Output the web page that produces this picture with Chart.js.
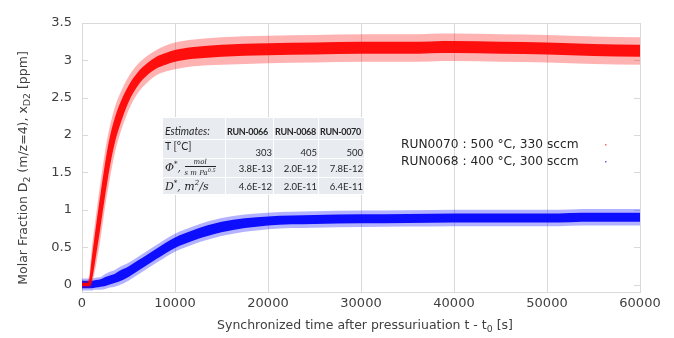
<!DOCTYPE html>
<html>
<head>
<meta charset="utf-8">
<script src="https://cdn.jsdelivr.net/npm/chart.js@4.4.1/dist/chart.umd.min.js"></script>
<style>
    html, body { margin: 0; padding: 0; background: #fff; }
    #wrap { position: relative; width: 674px; height: 338px; }
    #chart { position: absolute; left: 0; top: 0; }
    #estimates {
        position: absolute; left: 162px; top: 117px; width: 202px;
        border-collapse: collapse; table-layout: fixed;
        font-family: Lato, "Open Sans", sans-serif; font-size: 9.5px; color: #262626;
    }
    #estimates td { background: #e8ecf1; border: 1px solid #fff; padding: 0 1px; white-space: nowrap; }
    #estimates td.num { text-align: right; }
    #estimates tr.head td { height: 19px; vertical-align: bottom; padding-bottom: 2px; font-weight: bold;
        font-size: 9px; letter-spacing: -0.35px; padding-left: 1px; }
    #estimates tr.head td.first { font-weight: normal; font-style: italic; font-size: 10.5px; padding-left: 2px; letter-spacing: 0; }
    #estimates tr.temp td { height: 18px; vertical-align: bottom; }
    #estimates tr.temp td.first { vertical-align: top; font-size: 10.5px; padding-left: 2px; }
    #estimates tr.phi td { height: 18px; vertical-align: middle; }
    #estimates tr.diff td { height: 16px; vertical-align: middle; }
    #estimates tr.phi td.first, #estimates tr.diff td.first { padding-left: 2px; }
    .math { font-family: "DejaVu Serif", "Liberation Serif", serif; font-style: italic; font-size: 11px; }
    .frac { display: inline-block; vertical-align: middle; text-align: center; font-size: 7px; line-height: 7px; }
    .frac .top { display: block; border-bottom: 1px solid #262626; padding: 0 1px; }
    .frac .bot { display: block; }
</style>
</head>
<body>
<div id="wrap">
    <canvas id="chart" width="674" height="338"></canvas>
    <table id="estimates"></table>
</div>
<script>
// sample times [s] read along the two scatter bands
const timeS = [0, 500, 800, 1000, 1500, 2000, 2500, 3000, 3500, 4000, 5000, 6000, 7000, 8000, 9000,
    10000, 12000, 15000, 20000, 25000, 30000, 35000, 40000, 45000, 50000, 55000, 60000];

// RUN0070 (red) - dense core and sparse outer edge of the scatter band
const redCoreLow  = [-0.02, -0.02, -0.02, 0.02, 0.38, 0.78, 1.20, 1.58, 1.88, 2.10, 2.44, 2.66, 2.80, 2.89, 2.94,
    2.98, 3.02, 3.05, 3.07, 3.08, 3.09, 3.09, 3.10, 3.09, 3.08, 3.06, 3.05];
const redCoreHigh = [0.02, 0.02, 0.08, 0.30, 0.78, 1.22, 1.64, 1.98, 2.22, 2.40, 2.66, 2.84, 2.96, 3.05, 3.10,
    3.14, 3.18, 3.21, 3.23, 3.24, 3.25, 3.25, 3.26, 3.25, 3.24, 3.22, 3.21];
const redEdgeLow  = [-0.04, -0.04, -0.04, -0.02, 0.25, 0.62, 1.05, 1.42, 1.74, 1.98, 2.33, 2.56, 2.70, 2.80, 2.85,
    2.88, 2.92, 2.94, 2.96, 2.97, 2.98, 2.98, 2.99, 2.98, 2.97, 2.95, 2.94];
const redEdgeHigh = [0.04, 0.04, 0.15, 0.42, 0.92, 1.38, 1.80, 2.12, 2.36, 2.53, 2.78, 2.95, 3.06, 3.14, 3.20,
    3.24, 3.28, 3.31, 3.33, 3.34, 3.35, 3.35, 3.36, 3.35, 3.34, 3.32, 3.31];

// RUN0068 (blue)
const blueCoreLow  = [-0.05, -0.05, -0.05, -0.05, -0.04, -0.03, -0.02, 0.00, 0.02, 0.04, 0.10, 0.18, 0.26, 0.34, 0.42,
    0.49, 0.59, 0.70, 0.79, 0.81, 0.82, 0.825, 0.83, 0.83, 0.83, 0.84, 0.84];
const blueCoreHigh = [0.05, 0.05, 0.05, 0.05, 0.06, 0.07, 0.10, 0.12, 0.14, 0.18, 0.24, 0.32, 0.40, 0.48, 0.56,
    0.63, 0.73, 0.84, 0.91, 0.93, 0.94, 0.945, 0.95, 0.95, 0.95, 0.96, 0.96];
const blueEdgeLow  = [-0.08, -0.08, -0.08, -0.08, -0.07, -0.07, -0.06, -0.04, -0.03, -0.01, 0.05, 0.13, 0.21, 0.29, 0.37,
    0.44, 0.54, 0.65, 0.74, 0.76, 0.77, 0.775, 0.78, 0.78, 0.78, 0.79, 0.79];
const blueEdgeHigh = [0.08, 0.08, 0.08, 0.08, 0.09, 0.10, 0.14, 0.17, 0.19, 0.23, 0.29, 0.37, 0.45, 0.53, 0.61,
    0.68, 0.78, 0.89, 0.96, 0.98, 0.99, 0.995, 1.00, 1.00, 1.00, 1.01, 1.01];

const xTicks = [0, 10000, 20000, 30000, 40000, 50000, 60000];
const yTicks = [0, 0.5, 1, 1.5, 2, 2.5, 3, 3.5];

const legendLines = ['RUN0070 : 500 °C, 330 sccm', 'RUN0068 : 400 °C, 300 sccm'];

// estimates table
const runNames = ['RUN-0066', 'RUN-0068', 'RUN-0070'];
const tempC = ['303', '405', '500'];
const phiVals = ['3.8E-13', '2.0E-12', '7.8E-12'];
const diffVals = ['4.6E-12', '2.0E-11', '6.4E-11'];

const TEXT = '#404040';
const GRID = '#d9d9d9';

function toPoints(vals) {
    return timeS.map((t, i) => ({ x: t, y: vals[i] }));
}

function bandDatasets(low, high, color, name) {
    const common = {
        borderWidth: 0, borderColor: 'transparent', pointRadius: 0,
        cubicInterpolationMode: 'monotone', showLine: true
    };
    return [
        { ...common, label: name + ' low', data: toPoints(low), fill: false },
        { ...common, label: name + ' high', data: toPoints(high), backgroundColor: color, fill: '-1' }
    ];
}

function buildTable() {
    const rows = [];
    rows.push('<colgroup><col style="width:63px"><col style="width:48px"><col style="width:45px"><col style="width:46px"></colgroup>');
    rows.push('<tr class="head"><td class="first">Estimates:</td>' +
        runNames.map(r => `<td>${r}</td>`).join('') + '</tr>');
    rows.push('<tr class="temp"><td class="first">T [°C]</td>' + tempC.map(v => `<td class="num">${v}</td>`).join('') + '</tr>');
    rows.push('<tr class="phi"><td class="first"><span class="math">Φ<sup style="font-size:7px">*</sup>, ' +
        '<span class="frac"><span class="top">mol</span><span class="bot">s m Pa<sup style="font-size:5px">0.5</sup></span></span></span></td>' +
        phiVals.map(v => `<td class="num">${v}</td>`).join('') + '</tr>');
    rows.push('<tr class="diff"><td class="first"><span class="math">D<sup style="font-size:7px">*</sup>, m<sup style="font-size:7px">2</sup>/s</span></td>' +
        diffVals.map(v => `<td class="num">${v}</td>`).join('') + '</tr>');
    document.getElementById('estimates').innerHTML = rows.join('');
}

// draw text made of normal and subscript pieces
function drawRich(ctx, parts, x, y, size) {
    let total = 0;
    parts.forEach(([txt, sub]) => {
        ctx.font = `${sub ? size * 0.75 : size}px "DejaVu Sans"`;
        total += ctx.measureText(txt).width;
    });
    let cx = x - total / 2;
    parts.forEach(([txt, sub]) => {
        ctx.font = `${sub ? size * 0.75 : size}px "DejaVu Sans"`;
        ctx.fillText(txt, cx, sub ? y + size * 0.3 : y);
        cx += ctx.measureText(txt).width;
    });
}

const decorPlugin = {
    id: 'decor',
    beforeDatasetsDraw(chart) {
        const { ctx, chartArea: a, scales } = chart;
        ctx.save();
        ctx.strokeStyle = GRID;
        ctx.lineWidth = 1;
        ctx.strokeRect(a.left + 0.5, a.top + 0.5, a.right - a.left, a.bottom - a.top);
        // short inner y ticks on both sides
        ctx.beginPath();
        yTicks.forEach(v => {
            const py = Math.round(scales.y.getPixelForValue(v)) + 0.5;
            ctx.moveTo(a.left, py); ctx.lineTo(a.left + 6, py);
            ctx.moveTo(a.right - 6, py); ctx.lineTo(a.right, py);
        });
        ctx.stroke();
        ctx.restore();
    },
    afterDraw(chart) {
        const { ctx } = chart;
        ctx.save();
        ctx.fillStyle = TEXT;
        ctx.textBaseline = 'middle';
        // x title
        drawRich(ctx, [['Synchronized time after pressuriuation t - t', 0], ['0', 1], [' [s]', 0]], 365, 326, 12.5);
        // y title
        ctx.translate(24, 168);
        ctx.rotate(-Math.PI / 2);
        drawRich(ctx, [['Molar Fraction D', 0], ['2', 1], [' (m/z=4), x', 0], ['D2', 1], [' [ppm]', 0]], 0, 0, 12.5);
        ctx.restore();

        // legend
        ctx.save();
        ctx.fillStyle = '#262626';
        ctx.textBaseline = 'middle';
        ctx.font = '12.2px "DejaVu Sans"';
        legendLines.forEach((line, i) => ctx.fillText(line, 401, 145 + i * 17));
        ctx.fillStyle = 'rgba(255,0,0,0.6)';
        ctx.fillRect(605, 144, 1.5, 1.5);
        ctx.fillStyle = 'rgba(0,0,255,0.6)';
        ctx.fillRect(605, 161, 1.5, 1.5);
        ctx.restore();
    }
};

buildTable();

new Chart(document.getElementById('chart'), {
    type: 'line',
    data: {
        datasets: [
            ...bandDatasets(redCoreLow, redCoreHigh, 'rgba(255,0,0,0.92)', 'RUN0070 core'),
            ...bandDatasets(redEdgeLow, redEdgeHigh, 'rgba(255,0,0,0.3)', 'RUN0070 edge'),
            ...bandDatasets(blueCoreLow, blueCoreHigh, 'rgba(0,0,255,0.92)', 'RUN0068 core'),
            ...bandDatasets(blueEdgeLow, blueEdgeHigh, 'rgba(0,0,255,0.3)', 'RUN0068 edge')
        ]
    },
    options: {
        responsive: false,
        animation: false,
        layout: { padding: { left: 0, top: 23, right: 34, bottom: 0 } },
        plugins: { legend: { display: false }, tooltip: { enabled: false } },
        scales: {
            x: {
                type: 'linear', min: 0, max: 60000,
                afterBuildTicks: axis => { axis.ticks = xTicks.map(v => ({ value: v })); },
                afterFit: axis => { axis.height = 46; },
                grid: { color: GRID, drawTicks: false },
                border: { color: '#bfbfbf' },
                ticks: {
                    padding: 4, color: TEXT, maxRotation: 0,
                    font: { family: 'DejaVu Sans', size: 13 },
                    callback: v => String(v)
                }
            },
            y: {
                min: -0.1, max: 3.5,
                afterBuildTicks: axis => { axis.ticks = yTicks.map(v => ({ value: v })); },
                afterFit: axis => { axis.width = 82; },
                grid: { drawOnChartArea: false, drawTicks: false },
                border: { color: GRID },
                ticks: {
                    padding: 10, color: TEXT,
                    font: { family: 'DejaVu Sans', size: 13 },
                    callback: v => String(v)
                }
            }
        }
    },
    plugins: [decorPlugin]
});
</script>
</body>
</html>
